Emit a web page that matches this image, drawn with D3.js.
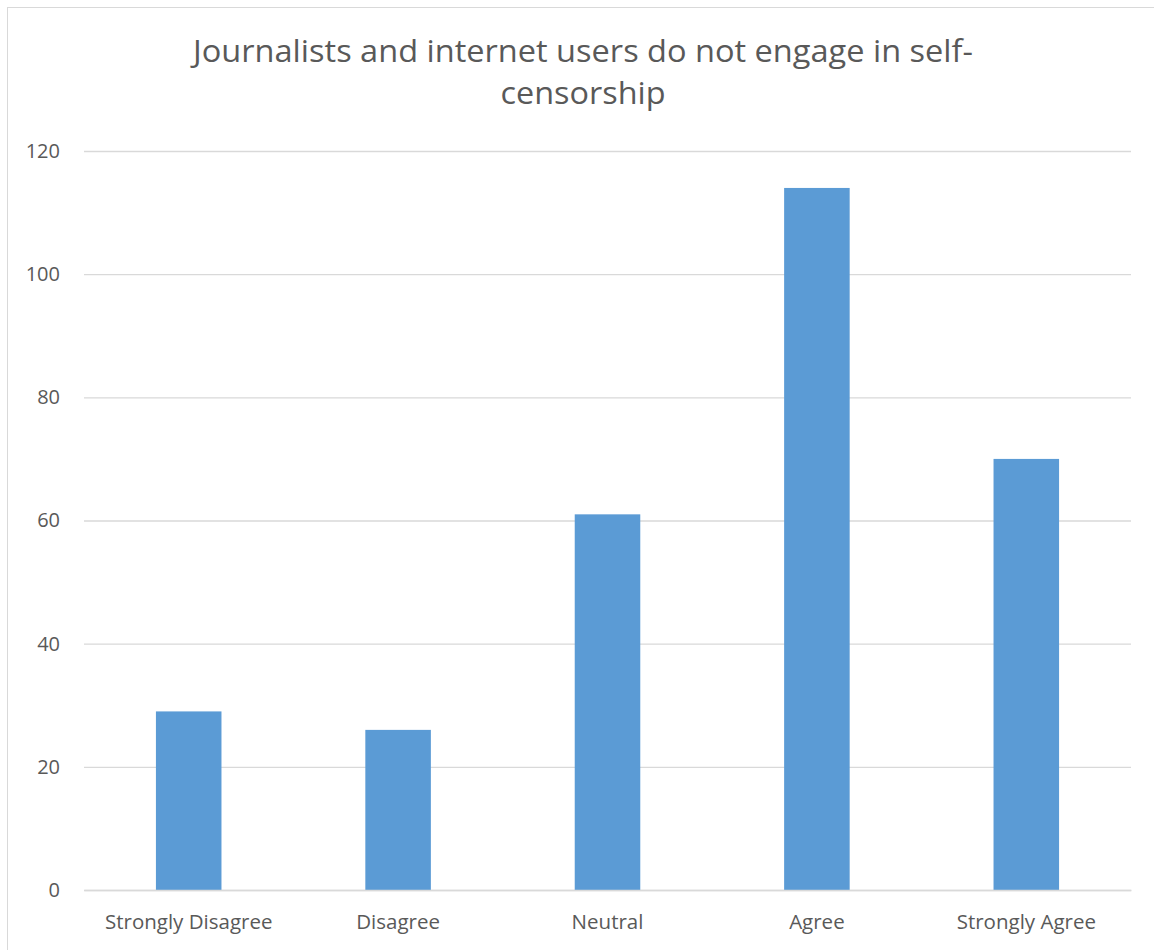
<!DOCTYPE html>
<html><head><meta charset="utf-8">
<script src="https://cdn.jsdelivr.net/npm/d3@7"></script>
<style>body{margin:0;background:#fff}svg{display:block}</style>
</head><body>
<svg id="c" width="1154" height="950"></svg>
<script>
const categories = ["Strongly Disagree","Disagree","Neutral","Agree","Strongly Agree"];
const values = [29, 26, 61, 114, 70];
const yTicks = [0,20,40,60,80,100,120];
const titleLines = ["Journalists and internet users do not engage in self-","censorship"];

(function(){
const svg = d3.select("#c");
const font = "'Open Sans', 'Noto Sans', sans-serif";
svg.append("rect").attr("x",7.5).attr("y",7.5).attr("width",1160).attr("height",960)
  .attr("fill","#fff").attr("stroke","#d9d9d9");

const pLeft=84, pRight=1131, pTop=151, pBottom=890;
const x = d3.scaleBand().domain(categories).range([pLeft,pRight]).paddingInner(0.687).paddingOuter(0.3435);
const y = d3.scaleLinear().domain([0,120]).range([pBottom,pTop]);

const yAxis = d3.axisLeft(y).tickValues(yTicks).tickSize(-(pRight-pLeft)).tickPadding(24);
const gy = svg.append("g").attr("transform",`translate(${pLeft},0)`).call(yAxis);
gy.select(".domain").remove();
gy.selectAll(".tick line").attr("stroke","#d9d9d9").attr("stroke-width",1.3);
gy.selectAll(".tick text").attr("fill","#595959").style("font-family",font).style("font-size","20px");

svg.append("g").selectAll("rect").data(values).join("rect")
  .attr("x",(d,i)=>x(categories[i])).attr("width",x.bandwidth())
  .attr("y",d=>y(d)).attr("height",d=>y(0)-y(d)).attr("fill","#5b9bd5");

const xAxis = d3.axisBottom(x).tickSize(0).tickPadding(24);
const gx = svg.append("g").attr("transform",`translate(0,${pBottom})`).call(xAxis);
gx.select(".domain").attr("stroke","#d9d9d9").attr("stroke-width",1.3);
gx.selectAll(".tick text").attr("fill","#595959").style("font-family",font).style("font-size","20.5px");

const tw = [780, 165];
svg.append("g").selectAll("text").data(titleLines).join("text")
  .attr("x",583).attr("y",(d,i)=>62+i*42).attr("text-anchor","middle")
  .attr("fill","#595959").style("font-family",font).style("font-size","31px").style("font-weight",400)
  .attr("textLength",(d,i)=>tw[i]).attr("lengthAdjust","spacingAndGlyphs")
  .text(d=>d);
})();
</script>
</body></html>
